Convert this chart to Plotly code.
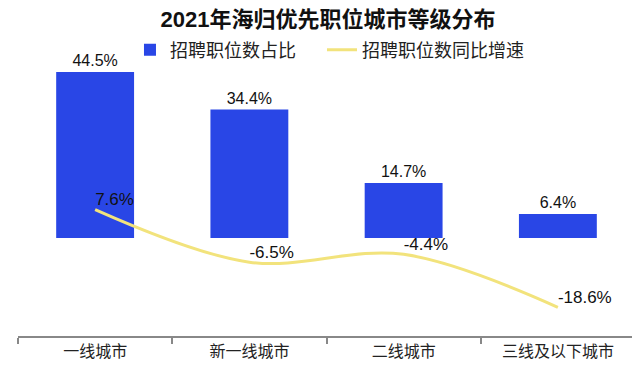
import plotly.graph_objects as go

categories = ["一线城市", "新一线城市", "二线城市", "三线及以下城市"]
share = [44.5, 34.4, 14.7, 6.4]
growth = [7.6, -6.5, -4.4, -18.6]
share_labels = ["44.5%", "34.4%", "14.7%", "6.4%"]
growth_labels = ["7.6%", "-6.5%", "-4.4%", "-18.6%"]

FONT = "Liberation Sans, Arial, Noto Sans CJK SC, sans-serif"

fig = go.Figure()
fig.add_trace(go.Bar(
    x=categories, y=share, name="招聘职位数占比",
    marker=dict(color="#2946E6", line=dict(width=0)),
    width=0.505,
    text=share_labels, textposition="outside",
    textfont=dict(size=16, color="#111111", family=FONT),
    cliponaxis=False,
    legend="legend",
))
fig.add_trace(go.Scatter(
    x=categories, y=growth, name="招聘职位数同比增速",
    mode="lines+text",
    line=dict(color="#F2E37C", width=3, shape="spline", smoothing=1.0),
    text=growth_labels, textposition="top right",
    textfont=dict(size=17, color="#111111", family=FONT),
    cliponaxis=False,
    legend="legend2",
))

legend_common = dict(orientation="h", xref="container", yref="container",
                     xanchor="left", y=0.8865, yanchor="middle",
                     font=dict(size=18, color="#222222", family=FONT),
                     itemwidth=30, bgcolor="rgba(0,0,0,0)")

# note: the page body has a default 8px margin, so the layout is laid out 8px up/left
fig.update_layout(
    width=640, height=370,
    margin=dict(l=10, r=13, t=52, b=42, autoexpand=False),
    paper_bgcolor="white", plot_bgcolor="white",
    font=dict(family=FONT, color="#222222"),
    title=dict(text="<b>2021年海归优先职位城市等级分布</b>", x=0.5, xanchor="center",
               xref="container", yref="container",
               y=0.970, yanchor="middle", font=dict(size=22, color="#111111", family=FONT)),
    legend=dict(x=0.1906, **legend_common),
    legend2=dict(x=0.4906, **legend_common),
    showlegend=True,
    bargap=0.5,
)
fig.update_xaxes(
    type="category", range=[-0.5, 3.5],
    showline=True, linecolor="#888888", linewidth=1.5,
    ticks="outside", tickson="boundaries", ticklen=6, tickcolor="#888888", tickwidth=1.5,
    tickfont=dict(size=16, color="#222222", family=FONT),
    showgrid=False, zeroline=False,
)
fig.update_yaxes(range=[-26.3, 47.7], visible=False, showgrid=False, zeroline=False)

fig.write_html("out.html")
